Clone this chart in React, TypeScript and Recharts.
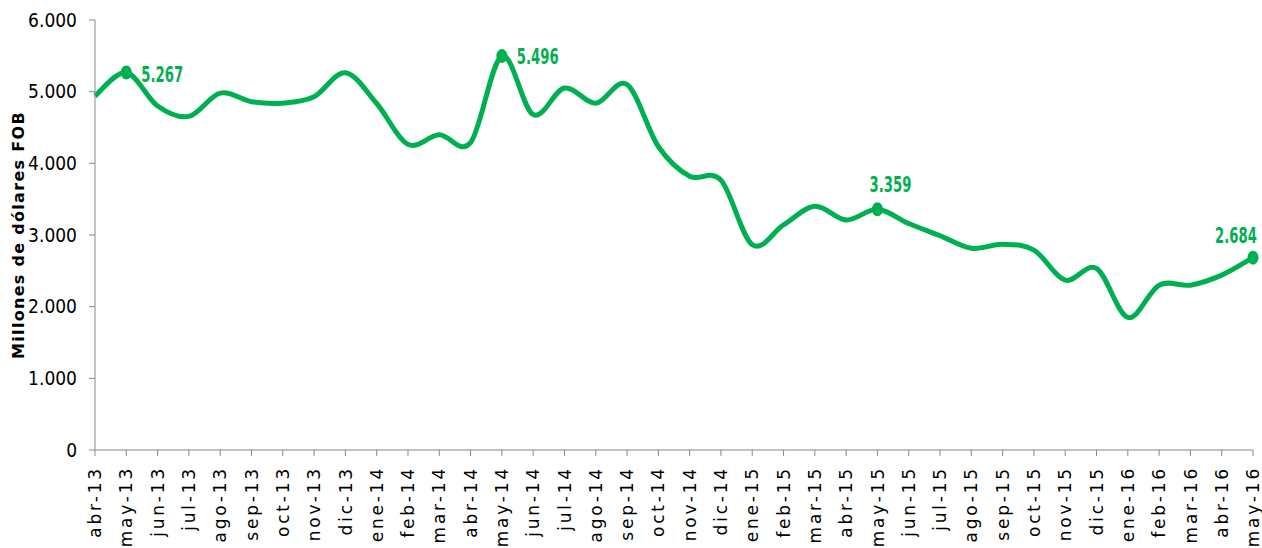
import React from "react";
import { LineChart, Line, XAxis, YAxis, LabelList } from "recharts";

const months = [
  "abr-13", "may-13", "jun-13", "jul-13", "ago-13", "sep-13", "oct-13", "nov-13", "dic-13",
  "ene-14", "feb-14", "mar-14", "abr-14", "may-14", "jun-14", "jul-14", "ago-14", "sep-14",
  "oct-14", "nov-14", "dic-14", "ene-15", "feb-15", "mar-15", "abr-15", "may-15", "jun-15",
  "jul-15", "ago-15", "sep-15", "oct-15", "nov-15", "dic-15", "ene-16", "feb-16", "mar-16",
  "abr-16", "may-16",
];

const exportsFob = [
  4940, 5267, 4800, 4655, 4980, 4860, 4840, 4930, 5265,
  4835, 4265, 4400, 4290, 5496, 4680, 5050, 4840, 5100,
  4235, 3820, 3765, 2865, 3140, 3400, 3210, 3359, 3160,
  2990, 2815, 2870, 2790, 2370, 2535, 1850, 2300, 2300,
  2440, 2684,
];

const yTicks = [0, 1000, 2000, 3000, 4000, 5000, 6000];

// months that get a marker + value label
const labeledMonths = ["may-13", "may-14", "may-15", "may-16"];

const GREEN = "#00B050";
const AXIS = "#898989";
const NARROW = "'Liberation Sans Narrow', 'DejaVu Sans Condensed', 'Arial Narrow', sans-serif";

const data = months.map((m, i) => ({ month: m, value: exportsFob[i] }));

const fmt = (v: number) => v.toLocaleString("de-DE");

// Excel-like smoothed line (cardinal bezier through every point)
const excelSmooth = (ctx: any) => {
  let pts: [number, number][] = [];
  return {
    areaStart() {},
    areaEnd() {},
    lineStart() {
      pts = [];
    },
    point(x: number, y: number) {
      pts.push([+x, +y]);
    },
    lineEnd() {
      if (!pts.length) return;
      ctx.moveTo(pts[0][0], pts[0][1]);
      const t = 1 / 6;
      for (let i = 0; i < pts.length - 1; i++) {
        const p0 = pts[i - 1] || pts[i];
        const p1 = pts[i];
        const p2 = pts[i + 1];
        const p3 = pts[i + 2] || p2;
        ctx.bezierCurveTo(
          p1[0] + (p2[0] - p0[0]) * t,
          p1[1] + (p2[1] - p0[1]) * t,
          p2[0] - (p3[0] - p1[0]) * t,
          p2[1] - (p3[1] - p1[1]) * t,
          p2[0],
          p2[1]
        );
      }
    },
  };
};

const XTick = (props: any) => {
  const { x, y, payload } = props;
  return (
    <g transform={`translate(${x},${y + 8})`}>
      <text
        transform="rotate(-90)"
        textAnchor="end"
        dy="0.36em"
        fontFamily="'DejaVu Sans', sans-serif"
        fontSize={17}
        style={{ letterSpacing: "2.8px" }}
        fill="#000"
      >
        {payload.value}
      </text>
    </g>
  );
};

const Marker = (props: any) => {
  const { cx, cy, payload } = props;
  if (!labeledMonths.includes(payload.month)) return <g key={props.key} />;
  return <ellipse key={props.key} cx={cx} cy={cy} rx={5.5} ry={7} fill={GREEN} />;
};

const labelPlacement: Record<string, { dx: number; dy: number; anchor: string }> = {
  "may-13": { dx: 15, dy: 9, anchor: "start" },
  "may-14": { dx: 15, dy: 8, anchor: "start" },
  "may-15": { dx: 13, dy: -17, anchor: "middle" },
  "may-16": { dx: -17, dy: -15, anchor: "middle" },
};

const ValueLabel = (props: any) => {
  const { x, y, index } = props;
  const m = months[index];
  const p = labelPlacement[m];
  if (!p) return null;
  return (
    <text
      transform={`translate(${x + p.dx},${y + p.dy}) scale(0.7,1)`}
      textAnchor={p.anchor as any}
      fontFamily={NARROW}
      fontWeight="bold"
      fontSize={21}
      fill={GREEN}
    >
      {fmt(exportsFob[index])}
    </text>
  );
};

export default function App() {
  return (
    <div style={{ position: "absolute", left: 0, top: 0, background: "#fff" }}>
      <LineChart width={1262} height={548} data={data} margin={{ top: 20, right: 9, left: 0, bottom: 0 }}>
        <XAxis
          dataKey="month"
          interval={0}
          height={98}
          stroke={AXIS}
          tickLine={{ stroke: AXIS }}
          tickSize={6}
          tick={<XTick />}
        />
        <YAxis
          domain={[0, 6000]}
          ticks={yTicks}
          width={95}
          stroke={AXIS}
          tickSize={6}
          tickMargin={12}
          tickFormatter={fmt}
          tick={{ fontFamily: NARROW, fontSize: 19, fill: "#000" }}
          label={{
            content: (lp: any) => {
              const vb = lp.viewBox;
              const cy = vb.y + vb.height / 2;
              return (
                <text
                  x={18}
                  y={cy}
                  transform={`rotate(-90, 18, ${cy})`}
                  textAnchor="middle"
                  dominantBaseline="central"
                  fontFamily="'DejaVu Sans', sans-serif"
                  fontWeight="bold"
                  fontSize={16}
                  style={{ letterSpacing: "1.3px" }}
                  fill="#000"
                >
                  Millones  de  dólares  FOB
                </text>
              );
            },
          }}
        />
        <Line
          dataKey="value"
          type={excelSmooth as any}
          stroke={GREEN}
          strokeWidth={5}
          dot={<Marker />}
          activeDot={false}
          isAnimationActive={false}
        >
          <LabelList dataKey="value" content={<ValueLabel />} />
        </Line>
      </LineChart>
    </div>
  );
}
